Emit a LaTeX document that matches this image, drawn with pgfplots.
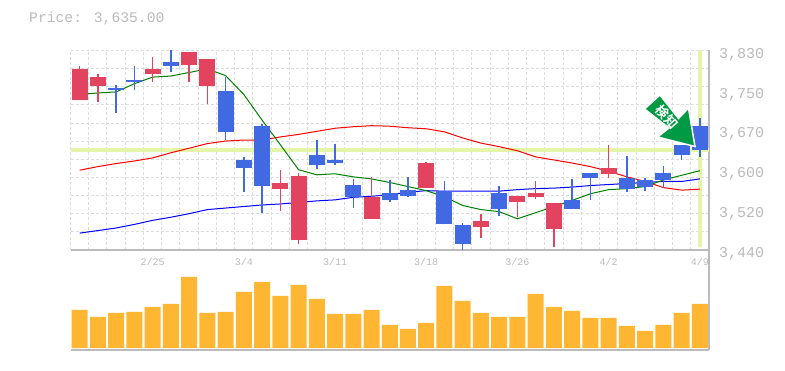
\documentclass[border=0pt]{standalone}
\usepackage{pgfplots}
\usepackage{pgfplotstable}
\usepackage{fontspec}
\pgfplotsset{compat=1.18}
\setmainfont{Liberation Mono}
\newfontfamily\cjk{Noto Sans CJK JP Bold}
\definecolor{txt}{HTML}{BBBBBB}
\definecolor{gridc}{HTML}{DDDDDD}
\definecolor{hl}{HTML}{E4F4A8}
\definecolor{cred}{HTML}{E2445F}
\definecolor{cblue}{HTML}{4169E1}
\definecolor{vol}{HTML}{FFB733}
\definecolor{arrowg}{HTML}{009944}
% i hi top bot lo
\pgfplotstableread{
i hi top bot lo
0 3800 3794 3734 3734
1 3784 3778 3761 3730
4 3817 3794 3784 3769
6 3827 3827 3802 3769
7 3813 3813 3761 3726
11 3597 3570 3560 3517
12 3591 3585 3460 3451
16 3583 3544 3501 3501
19 3613 3611 3562 3562
22 3511 3496 3484 3464
24 3546 3546 3533 3505
25 3574 3552 3544 3540
26 3531 3531 3482 3445
29 3646 3601 3589 3581
}\redcandles
\pgfplotstableread{
i hi top bot lo
2 3763 3757 3753 3707
3 3800 3773 3769 3752
5 3830 3808 3800 3787
8 3778 3751 3670 3655
9 3622 3616 3601 3554
10 3687 3683 3566 3513
13 3655 3626 3607 3599
14 3648 3616 3611 3607
15 3579 3568 3544 3523
17 3577 3552 3537 3533
18 3583 3558 3546 3544
20 3575 3556 3490 3490
21 3492 3488 3451 3440
23 3566 3552 3521 3507
27 3579 3537 3521 3521
28 3591 3591 3581 3537
30 3624 3581 3560 3554
31 3581 3577 3564 3556
32 3605 3591 3577 3562
33 3646 3645 3626 3615
34 3698 3683 3635 3622
}\bluecandles
\pgfplotstableread{
i short mid long
0 3744 3596 3473
1 3747 3603 3478
2 3749 3609 3483
3 3765 3614 3490
4 3778 3620 3498
5 3780 3630 3504
6 3787 3639 3511
7 3794 3648 3519
8 3781 3653 3522
9 3744 3655 3525
10 3694 3655 3528
11 3646 3661 3530
12 3597 3666 3533
13 3587 3672 3536
14 3589 3678 3538
15 3583 3681 3543
16 3579 3683 3545
17 3572 3682 3548
18 3564 3679 3553
19 3556 3677 3556
20 3544 3671 3555
21 3527 3659 3555
22 3519 3649 3555
23 3515 3642 3555
24 3501 3634 3558
25 3513 3622 3560
26 3525 3616 3561
27 3537 3610 3563
28 3550 3603 3566
29 3558 3594 3568
30 3560 3583 3570
31 3564 3574 3572
32 3577 3562 3574
33 3586 3557 3574
34 3595 3559 3579
}\lines
\pgfplotstableread{
i v
0 38
1 31
2 35
3 36
4 41
5 44
6 71
7 35
8 36
9 56
10 66
11 52
12 63
13 49
14 34
15 34
16 38
17 23
18 19
19 25
20 62
21 47
22 35
23 31
24 31
25 54
26 41
27 37
28 30
29 30
30 22
31 17
32 23
33 35
34 44
}\volumes
\begin{document}
\begin{tikzpicture}[x=1pt,y=1pt]
\path[use as bounding box] (0,0) rectangle (785,370);
\fill[white] (0,0) rectangle (785,370);
\node[anchor=base west,inner sep=0pt,text=txt,font=\fontsize{14.7pt}{15pt}\selectfont] at (29,347) {Price: 3,635.00};
% volume panel
\begin{axis}[
  at={(70.5pt,20pt)},anchor=south west,scale only axis,width=638.5pt,height=100pt,
  xmin=-0.5,xmax=34.5,ymin=-2,ymax=98,
  axis x line*=bottom,axis y line*=right,
  axis line style={txt,line width=1.3pt,-},
  ytick=\empty,xtick=\empty,
  minor xtick={-0.5,0.5,...,34.5},
  xminorgrids=true,
  minor grid style={gridc,line width=1pt,dash pattern=on 3pt off 2pt},
  minor tick length=0pt,
  ybar,bar width=16pt,
]
\addplot[fill=vol,draw=none] table[x=i,y=v] {\volumes};
\end{axis}
% price panel
\begin{axis}[
  at={(70.5pt,120pt)},anchor=south west,scale only axis,width=638.5pt,height=199.5pt,
  xmin=-0.5,xmax=34.5,ymin=3440,ymax=3830,
  axis x line*=bottom,axis y line*=right,
  axis line style={txt,line width=1.3pt,-},
  xtick={4,9,14,19,24,29,34},
  xticklabels={2/25,3/4,3/11,3/18,3/26,4/2,4/9},
  x tick label style={text=txt,font=\fontsize{10pt}{10pt}\selectfont,inner sep=0pt,yshift=-8pt},
  major tick length=0pt,
  minor xtick={-0.5,0.5,...,34.5},
  xmajorgrids=false,xminorgrids=true,ymajorgrids=true,
  minor tick length=0pt,
  minor grid style={gridc,line width=1pt,dash pattern=on 3pt off 2pt},
  major grid style={gridc,line width=1pt,dash pattern=on 3pt off 2pt},
  ytick={3440,3475.45,3510.91,3546.36,3581.82,3617.27,3652.73,3688.18,3723.64,3759.09,3794.55,3830},
  yticklabels={},
  extra y ticks={3830,3752,3674,3596,3518,3440},
  extra y tick labels={{3,830},{3,750},{3,670},{3,600},{3,520},{3,440}},
  extra y tick style={grid=none,major tick length=0pt,
    y tick label style={text=txt,font=\fontsize{15pt}{15pt}\selectfont,inner sep=0pt,xshift=10pt,yshift=-4pt}},
  /pgf/number format/assume math mode=true,
]
% highlighted current price
\addplot[hl,line width=4pt,forget plot] coordinates {(-0.5,3635) (34.5,3635)};
\addplot[hl,line width=4pt,forget plot] coordinates {(34,3830) (34,3445)};
% moving averages
\addplot[blue,line width=1pt,mark=none] table[x=i,y=long] {\lines};
\addplot[red,line width=1pt,mark=none] table[x=i,y=mid] {\lines};
\addplot[green!50!black,line width=1pt,mark=none] table[x=i,y=short] {\lines};
% wicks
\addplot[draw=none,mark=none,forget plot,error bars/.cd,y dir=plus,y explicit,error mark=none,
  error bar style={cred,line width=1.5pt}]
  table[x=i,y=lo,y error plus expr=\thisrow{hi}-\thisrow{lo}] {\redcandles};
\addplot[draw=none,mark=none,forget plot,error bars/.cd,y dir=plus,y explicit,error mark=none,
  error bar style={cblue,line width=1.5pt}]
  table[x=i,y=lo,y error plus expr=\thisrow{hi}-\thisrow{lo}] {\bluecandles};
% bodies
\addplot[draw=none,mark=none,forget plot,error bars/.cd,y dir=plus,y explicit,error mark=none,
  error bar style={cred,line width=16pt}]
  table[x=i,y=bot,y error plus expr=\thisrow{top}-\thisrow{bot}] {\redcandles};
\addplot[draw=none,mark=none,forget plot,error bars/.cd,y dir=plus,y explicit,error mark=none,
  error bar style={cblue,line width=16pt}]
  table[x=i,y=bot,y error plus expr=\thisrow{top}-\thisrow{bot}] {\bluecandles};
\end{axis}
% signal arrow
\begin{scope}[shift={(0,370)},y=-1pt]
\filldraw[fill=arrowg,draw=white,line width=1.5pt,line join=miter]
  (660,95) -- (644.5,109) -- (669,128) -- (657.5,137) -- (695,146.5) -- (688.5,108) -- (678.5,118.5) -- cycle;
\node[text=white,rotate=-48,font=\cjk\fontsize{13pt}{13pt}\selectfont,inner sep=0pt] at (667,117) {検知};
\end{scope}
\end{tikzpicture}
\end{document}
